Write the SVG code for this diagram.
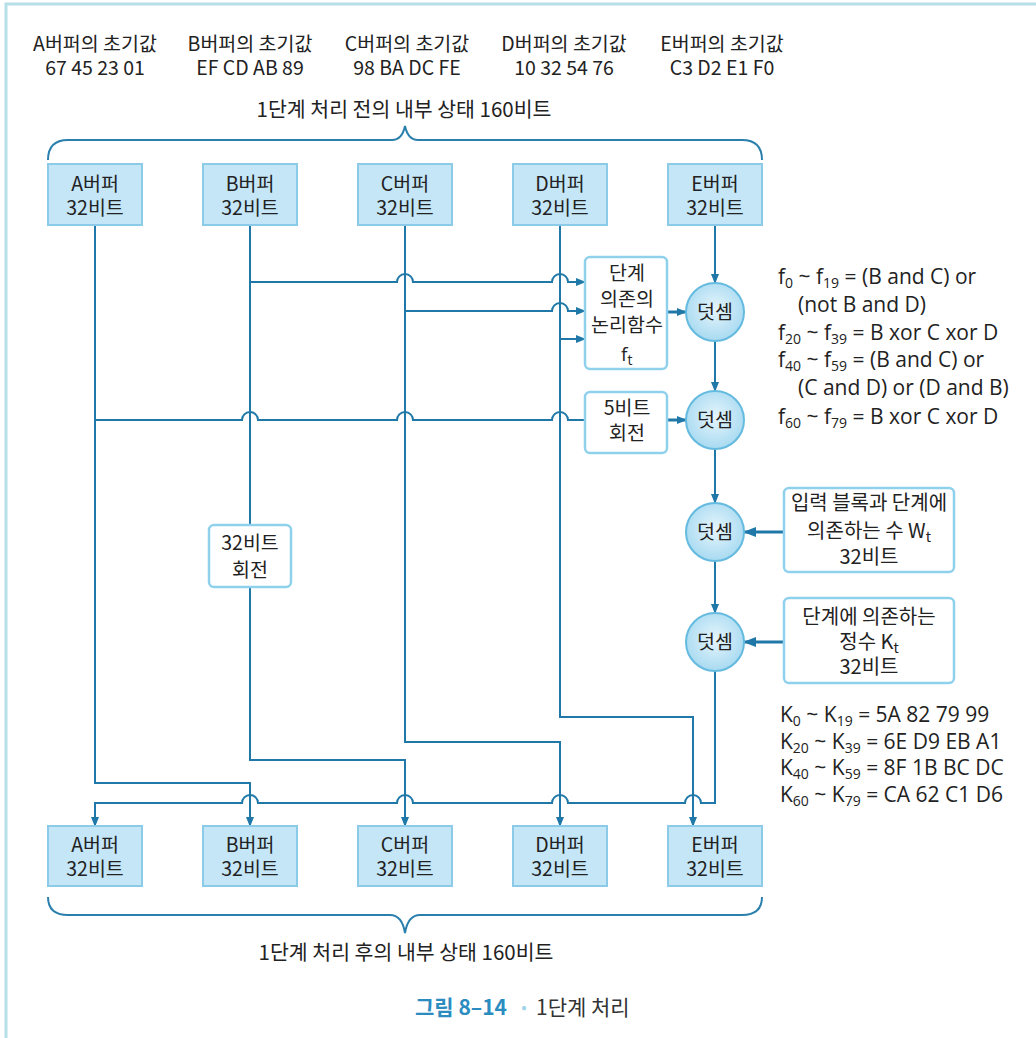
<svg xmlns="http://www.w3.org/2000/svg" width="1036" height="1038" viewBox="0 0 1036 1038">
<style>
.t{font-family:"Noto Sans CJK KR","Noto Sans",sans-serif;font-size:19.5px;fill:#222;text-anchor:middle}
.tt{font-size:20.5px}
.wk{font-size:20px}
.f{font-family:"Open Sans","Noto Sans",sans-serif;font-size:21px;fill:#222}
.s{font-size:14px}
.ln{fill:none;stroke:#1f78a8;stroke-width:2}
.th{fill:none;stroke:#1f78a8;stroke-width:3}
.buf{fill:#c4e6f7;stroke:#8ccbe8;stroke-width:2}
.box{fill:#fff;stroke:#8fd1ec;stroke-width:2.5}
.add{fill:url(#g);stroke:#64badf;stroke-width:2}
.br{fill:none;stroke:#2b7fad;stroke-width:2}
</style>
<defs>
<radialGradient id="g" cx="50%" cy="45%" r="55%"><stop offset="0" stop-color="#e6f5fc"/><stop offset="1" stop-color="#a8daf1"/></radialGradient>
<marker id="ar" markerWidth="10" markerHeight="8" refX="9" refY="4" orient="auto" markerUnits="userSpaceOnUse"><path d="M0,0 L10,4 L0,8 z" fill="#1f78a8"/></marker>
<marker id="arb" markerWidth="13" markerHeight="10" refX="12" refY="5" orient="auto" markerUnits="userSpaceOnUse"><path d="M0,0 L13,5 L0,10 z" fill="#1f78a8"/></marker>
</defs>
<rect width="1036" height="1038" fill="#fff"/>
<path d="M6,1038 L6,4 L1036,4" fill="none" stroke="#b6dfe8" stroke-width="3"/>

<g id="header">
<text class="t" x="95" y="51">A버퍼의 초기값</text><text class="t" x="95" y="75">67 45 23 01</text>
<text class="t" x="250" y="51">B버퍼의 초기값</text><text class="t" x="250" y="75">EF CD AB 89</text>
<text class="t" x="407" y="51">C버퍼의 초기값</text><text class="t" x="407" y="75">98 BA DC FE</text>
<text class="t" x="564" y="51">D버퍼의 초기값</text><text class="t" x="564" y="75">10 32 54 76</text>
<text class="t" x="722" y="51">E버퍼의 초기값</text><text class="t" x="722" y="75">C3 D2 E1 F0</text>
<text class="t tt" x="404" y="117">1단계 처리 전의 내부 상태 160비트</text>
<path class="br" d="M48,160 Q48,140 68,140 L392,140 Q402,140 405,126 Q408,140 418,140 L742,140 Q762,140 762,160"/>
</g>

<g id="connectors">
<path class="ln" d="M250,282 L397,282 A8,8 0 0 1 413,282 L552,282 A8,8 0 0 1 568,282 L585,282" marker-end="url(#ar)"/>
<path class="ln" d="M405,311 L552,311 A8,8 0 0 1 568,311 L585,311" marker-end="url(#ar)"/>
<path class="ln" d="M560,339 L585,339" marker-end="url(#ar)"/>
<path class="ln" d="M95,420 L242,420 A8,8 0 0 1 258,420 L397,420 A8,8 0 0 1 413,420 L552,420 A8,8 0 0 1 568,420 L585,420"/>
<path class="ln" d="M95,225 L95,783 L250,783 L250,826" marker-end="url(#ar)"/>
<path class="ln" d="M250,225 L250,525"/>
<path class="ln" d="M250,587 L250,760 L405,760 L405,826" marker-end="url(#ar)"/>
<path class="ln" d="M405,225 L405,742 L560,742 L560,826" marker-end="url(#ar)"/>
<path class="ln" d="M560,225 L560,717 L693,717 L693,826" marker-end="url(#ar)"/>
<path class="ln" d="M715,225 L715,283" marker-end="url(#ar)"/>
<path class="th" d="M667,312 L686,312" marker-end="url(#ar)"/>
<path class="ln" d="M715,341 L715,391" marker-end="url(#ar)"/>
<path class="th" d="M667,420 L686,420" marker-end="url(#ar)"/>
<path class="ln" d="M715,449 L715,503" marker-end="url(#ar)"/>
<path class="th" d="M784,532 L744,532" marker-end="url(#arb)"/>
<path class="ln" d="M715,561 L715,613" marker-end="url(#ar)"/>
<path class="th" d="M784,642 L744,642" marker-end="url(#arb)"/>
<path class="ln" d="M715,671 L715,803 L701,803 A8,8 0 0 0 685,803 L568,803 A8,8 0 0 0 552,803 L413,803 A8,8 0 0 0 397,803 L258,803 A8,8 0 0 0 242,803 L95,803 L95,826" marker-end="url(#ar)"/>
</g>

<g id="bufA-top"><rect class="buf" x="48" y="164" width="94" height="61"/><text class="t" x="95" y="191">A버퍼</text><text class="t" x="95" y="215">32비트</text></g>
<g id="bufB-top"><rect class="buf" x="203" y="164" width="94" height="61"/><text class="t" x="250" y="191">B버퍼</text><text class="t" x="250" y="215">32비트</text></g>
<g id="bufC-top"><rect class="buf" x="358" y="164" width="94" height="61"/><text class="t" x="405" y="191">C버퍼</text><text class="t" x="405" y="215">32비트</text></g>
<g id="bufD-top"><rect class="buf" x="513" y="164" width="94" height="61"/><text class="t" x="560" y="191">D버퍼</text><text class="t" x="560" y="215">32비트</text></g>
<g id="bufE-top"><rect class="buf" x="668" y="164" width="94" height="61"/><text class="t" x="715" y="191">E버퍼</text><text class="t" x="715" y="215">32비트</text></g>

<g id="func"><rect class="box" x="585" y="257" width="82" height="112" rx="5"/>
<text class="t" x="627" y="280">단계</text><text class="t" x="627" y="306">의존의</text><text class="t" x="627" y="332">논리함수</text>
<text class="f" x="621" y="361" style="font-size:19px">f<tspan class="s" dy="4">t</tspan></text></g>
<g id="rot5"><rect class="box" x="585" y="392" width="82" height="61" rx="5"/><text class="t" x="627" y="415">5비트</text><text class="t" x="627" y="440">회전</text></g>
<g id="rot32"><rect class="box" x="209" y="525" width="82" height="62" rx="5"/><text class="t" x="250" y="550">32비트</text><text class="t" x="250" y="577">회전</text></g>

<g id="add1"><circle class="add" cx="715" cy="312" r="29"/><text class="t" x="715" y="319">덧셈</text></g>
<g id="add2"><circle class="add" cx="715" cy="420" r="29"/><text class="t" x="715" y="427">덧셈</text></g>
<g id="add3"><circle class="add" cx="715" cy="532" r="29"/><text class="t" x="715" y="539">덧셈</text></g>
<g id="add4"><circle class="add" cx="715" cy="642" r="29"/><text class="t" x="715" y="649">덧셈</text></g>

<g id="wbox"><rect class="box" x="784" y="488" width="170" height="84" rx="5"/>
<text class="t wk" x="869" y="510">입력 블록과 단계에</text>
<text class="t wk" x="869" y="538">의존하는 수 W<tspan class="s" dy="4">t</tspan></text>
<text class="t wk" x="869" y="564">32비트</text></g>
<g id="kbox"><rect class="box" x="784" y="598" width="170" height="85" rx="5"/>
<text class="t wk" x="869" y="624">단계에 의존하는</text>
<text class="t wk" x="869" y="649">정수 K<tspan class="s" dy="4">t</tspan></text>
<text class="t wk" x="869" y="674">32비트</text></g>

<g id="fdefs">
<text class="f" x="778" y="284">f<tspan class="s" dy="4">0</tspan><tspan dy="-4"> ~ f</tspan><tspan class="s" dy="4">19</tspan><tspan dy="-4"> = (B and C) or</tspan></text>
<text class="f" x="798" y="312">(not B and D)</text>
<text class="f" x="778" y="340">f<tspan class="s" dy="4">20</tspan><tspan dy="-4"> ~ f</tspan><tspan class="s" dy="4">39</tspan><tspan dy="-4"> = B xor C xor D</tspan></text>
<text class="f" x="778" y="367">f<tspan class="s" dy="4">40</tspan><tspan dy="-4"> ~ f</tspan><tspan class="s" dy="4">59</tspan><tspan dy="-4"> = (B and C) or</tspan></text>
<text class="f" x="798" y="395">(C and D) or (D and B)</text>
<text class="f" x="778" y="424">f<tspan class="s" dy="4">60</tspan><tspan dy="-4"> ~ f</tspan><tspan class="s" dy="4">79</tspan><tspan dy="-4"> = B xor C xor D</tspan></text>
</g>

<g id="kdefs">
<text class="f" x="780" y="722">K<tspan class="s" dy="4">0</tspan><tspan dy="-4"> ~ K</tspan><tspan class="s" dy="4">19</tspan><tspan dy="-4"> = 5A 82 79 99</tspan></text>
<text class="f" x="780" y="749">K<tspan class="s" dy="4">20</tspan><tspan dy="-4"> ~ K</tspan><tspan class="s" dy="4">39</tspan><tspan dy="-4"> = 6E D9 EB A1</tspan></text>
<text class="f" x="780" y="775">K<tspan class="s" dy="4">40</tspan><tspan dy="-4"> ~ K</tspan><tspan class="s" dy="4">59</tspan><tspan dy="-4"> = 8F 1B BC DC</tspan></text>
<text class="f" x="780" y="802">K<tspan class="s" dy="4">60</tspan><tspan dy="-4"> ~ K</tspan><tspan class="s" dy="4">79</tspan><tspan dy="-4"> = CA 62 C1 D6</tspan></text>
</g>

<g id="bufA-bot"><rect class="buf" x="48" y="826" width="94" height="60"/><text class="t" x="95" y="852">A버퍼</text><text class="t" x="95" y="876">32비트</text></g>
<g id="bufB-bot"><rect class="buf" x="203" y="826" width="94" height="60"/><text class="t" x="250" y="852">B버퍼</text><text class="t" x="250" y="876">32비트</text></g>
<g id="bufC-bot"><rect class="buf" x="358" y="826" width="94" height="60"/><text class="t" x="405" y="852">C버퍼</text><text class="t" x="405" y="876">32비트</text></g>
<g id="bufD-bot"><rect class="buf" x="513" y="826" width="94" height="60"/><text class="t" x="560" y="852">D버퍼</text><text class="t" x="560" y="876">32비트</text></g>
<g id="bufE-bot"><rect class="buf" x="668" y="826" width="94" height="60"/><text class="t" x="715" y="852">E버퍼</text><text class="t" x="715" y="876">32비트</text></g>

<g id="footer">
<path class="br" d="M48,897 Q48,915 68,915 L390,915 Q402,915 405,933 Q408,915 420,915 L742,915 Q762,915 762,897"/>
<text class="t tt" x="406" y="960">1단계 처리 후의 내부 상태 160비트</text>
<text x="415" y="1015" style="font-family:'Noto Sans CJK KR','Noto Sans',sans-serif;font-size:21px;font-weight:bold;fill:#2b8cc0">그림 8–14</text>
<text x="524" y="1013" style="font-family:'Noto Sans CJK KR',sans-serif;font-size:16px;fill:#9fd3e8;text-anchor:middle">•</text>
<text x="536" y="1015" style="font-family:'Noto Sans CJK KR','Noto Sans',sans-serif;font-size:21px;fill:#333">1단계 처리</text>
</g>
</svg>
